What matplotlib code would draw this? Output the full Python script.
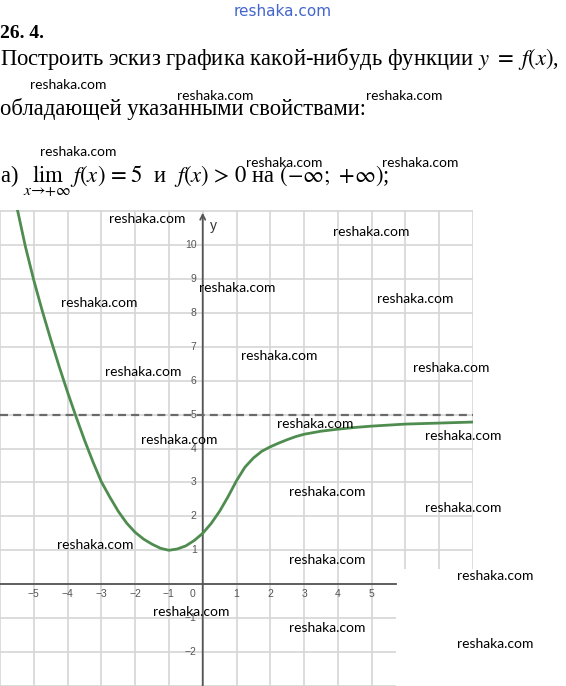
import numpy as np
import matplotlib
matplotlib.use("Agg")
import matplotlib.pyplot as plt
from matplotlib.patches import Rectangle

plt.rcParams["mathtext.fontset"] = "stix"

# curve values
curve_x = [-5.5, -5.25, -5.0, -4.75, -4.5, -4.25, -4.0, -3.75, -3.5, -3.25, -3.0,
           -2.75, -2.5, -2.25, -2.0, -1.75, -1.5, -1.25, -1.0, -0.75, -0.5, -0.25,
           0.0, 0.25, 0.5, 0.75, 1.0, 1.25, 1.5, 1.75, 2.0, 2.25, 2.5, 2.75, 3.0,
           3.5, 4.0, 4.5, 5.0, 6.0, 7.0, 8.0]
curve_y = [11.11, 9.96, 8.96, 8.06, 7.22, 6.42, 5.66, 4.94, 4.25, 3.61, 3.02,
           2.57, 2.15, 1.8, 1.53, 1.33, 1.18, 1.06, 1.0, 1.04, 1.13, 1.29,
           1.5, 1.79, 2.15, 2.58, 3.05, 3.45, 3.72, 3.92, 4.05, 4.16, 4.26, 4.35, 4.42,
           4.51, 4.57, 4.62, 4.66, 4.72, 4.75, 4.78]
asymptote = 5

x_ticks = [-5, -4, -3, -2, -1, 1, 2, 3, 4, 5]
y_ticks = [-2, -1, 1, 2, 3, 4, 5, 6, 7, 8, 9, 10]

title = "26. 4."
line1 = r"Построить эскиз графика какой-нибудь функции $y\ =\ f(x)$,"
line2 = "обладающей указанными свойствами:"
line3 = (r"а) $\lim_{x\to+\infty}\, f(x)\ =\ 5$  и  $f(x)\ >\ 0$ на "
         r"$(-\infty;\ +\infty)$;")

wm_text = "reshaka.com"
wm_pos = [(68, 85), (215, 96), (404, 96), (78, 152), (284, 163), (420, 163),
          (147, 219), (371, 232), (99, 303), (237, 288), (415, 299), (143, 372),
          (279, 356), (451, 368), (179, 440), (315, 424), (463, 436), (327, 492),
          (463, 508), (95, 545), (327, 560), (495, 576), (191, 612), (327, 628),
          (495, 644)]

W, H = 566, 686
fig = plt.figure(figsize=(W / 100, H / 100), dpi=100)
ax = fig.add_axes([0, 0, 473 / W, 476 / H])
ax.set_xlim(-5.95, 7.95)
ax.set_ylim(-2.93, 11.03)
for s in ax.spines.values():
    s.set_visible(False)
ax.set_xticks(range(-6, 9))
ax.set_yticks(range(-3, 12))
ax.tick_params(length=0, labelbottom=False, labelleft=False)
ax.set_axisbelow(True)
ax.grid(True, color="#d6d6d6", lw=1.2)

# lower-right part of the screenshot is blank
ax.add_patch(Rectangle((5.72, -3.5), 3, 3.95, facecolor="white", edgecolor="none", zorder=1))

ax.plot([-6, 5.72], [0, 0], color="#555555", lw=1.3, zorder=2)
ax.annotate("", xy=(0, 10.95), xytext=(0, -3.2),
            arrowprops=dict(arrowstyle="->", color="#555555", lw=1.3,
                            shrinkA=0, shrinkB=0, mutation_scale=9), zorder=2)
ax.text(0.22, 10.55, "y", fontsize=10, color="#333333", family="Liberation Sans",
        ha="left", va="center")

ax.plot([-6, 8], [asymptote, asymptote], color="#6a6a6a", lw=1.6,
        dashes=(3.6, 2.3), zorder=2)

for t in x_ticks:
    ax.text(t, -0.3, f"{t}".replace("-", "\u2212"), fontsize=7.5, color="#555555",
            family="Liberation Sans", ha="center", va="center")
ax.text(-0.3, -0.3, "0", fontsize=7.5, color="#555555", family="Liberation Sans",
        ha="center", va="center")
for t in y_ticks:
    ax.text(-0.18, t, f"{t}".replace("-", "\u2212"), fontsize=7.5, color="#555555",
            family="Liberation Sans", ha="right", va="center")

ax.plot(curve_x, curve_y, color="#4f8c4f", lw=2, zorder=3, solid_capstyle="round",
        solid_joinstyle="round")

fig.text(0 / W, 1 - 38 / H, title, fontsize=14, weight="bold",
         family="Liberation Serif", va="baseline", ha="left")
fig.text(0 / W, 1 - 65 / H, line1, fontsize=16.3, family="Liberation Serif",
         va="baseline", ha="left")
fig.text(0 / W, 1 - 115 / H, line2, fontsize=16.3, family="Liberation Serif",
         va="baseline", ha="left")
fig.text(0 / W, 1 - 183 / H, line3, fontsize=16.3, family="Liberation Serif",
         va="baseline", ha="left")

fig.text(283 / W, 1 - 12 / H, wm_text, fontsize=11, color="#4466cc",
         family="DejaVu Sans", ha="center", va="center")
for x, y in wm_pos:
    fig.text(x / W, 1 - y / H, wm_text, fontsize=10, color="black", family="Lato",
             ha="center", va="center", zorder=10)

fig.savefig("out.png", dpi=100)
